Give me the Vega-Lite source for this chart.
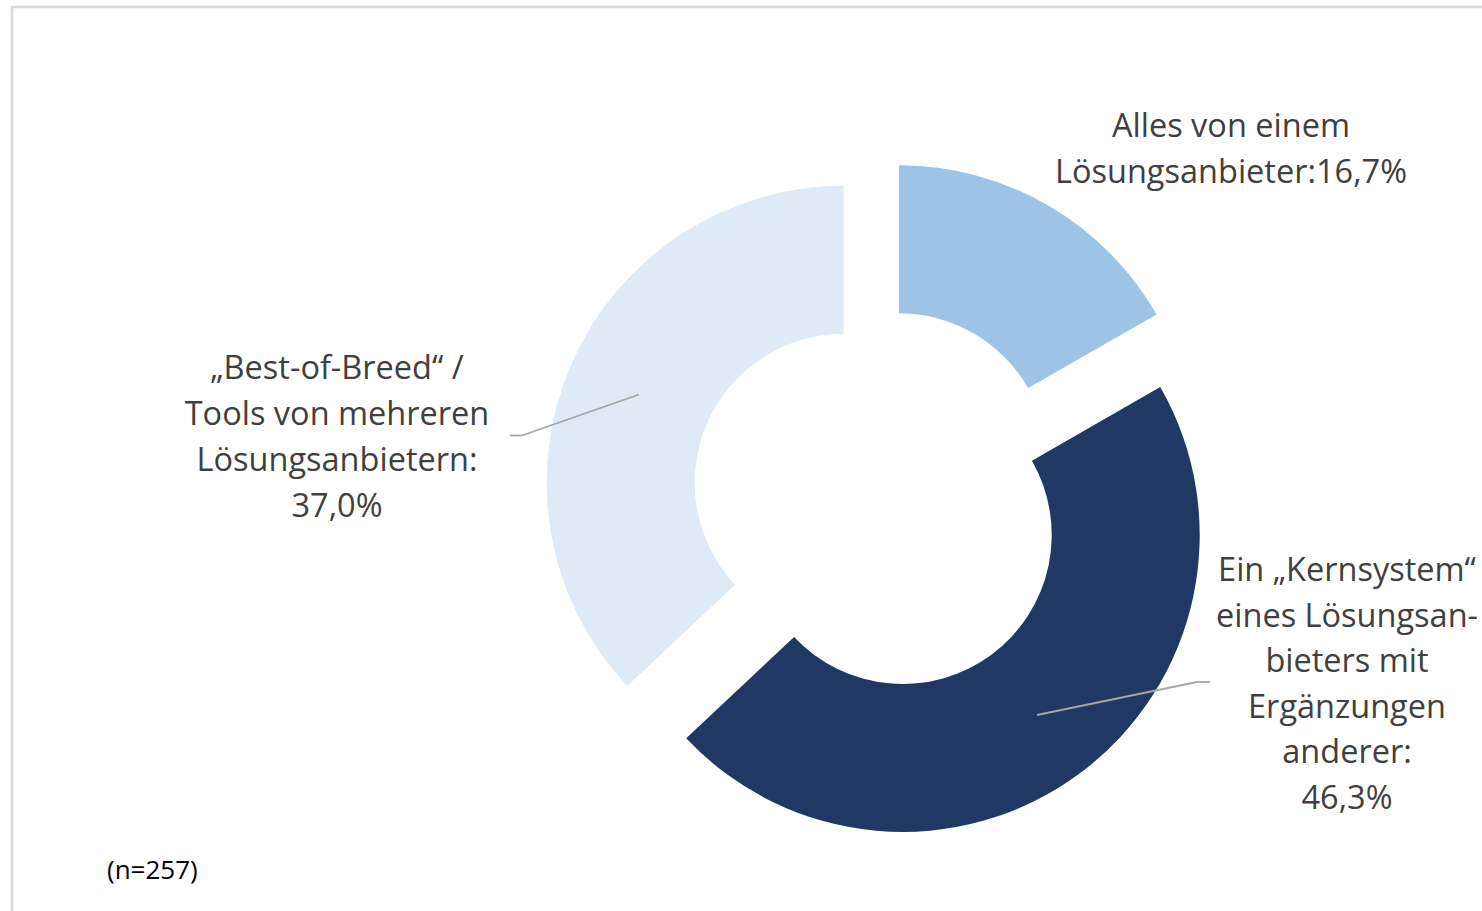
{
  "$schema": "https://vega.github.io/schema/vega-lite/v6.json",
  "width": 1482,
  "height": 911,
  "autosize": "none",
  "padding": 0,
  "background": "#ffffff",
  "config": {"view": {"stroke": null}},
  "params": [
    {"name": "cx", "value": 879.5},
    {"name": "cy", "value": 500},
    {"name": "exX", "value": 39},
    {"name": "exY", "value": 43.5}
  ],
  "data": {
    "values": [
      {"order": 1, "cat": "Alles von einem Lösungsanbieter", "value": 16.7, "label": "Alles von einem\nLösungsanbieter:16,7%"},
      {"order": 2, "cat": "Kernsystem mit Ergänzungen", "value": 46.3, "label": "Ein „Kernsystem“\neines Lösungsan-\nbieters mit\nErgänzungen\nanderer:\n46,3%"},
      {"order": 3, "cat": "Best-of-Breed", "value": 37.0, "label": "„Best-of-Breed“ /\nTools von mehreren\nLösungsanbietern:\n37,0%"}
    ]
  },
  "transform": [
    {"window": [{"op": "sum", "field": "value", "as": "cum"}], "sort": [{"field": "order"}], "frame": [null, 0]},
    {"joinaggregate": [{"op": "sum", "field": "value", "as": "total"}]},
    {"calculate": "2*PI*(datum.cum-datum.value)/datum.total", "as": "a0"},
    {"calculate": "2*PI*datum.cum/datum.total", "as": "a1"},
    {"calculate": "(datum.a0+datum.a1)/2", "as": "mid"}
  ],
  "layer": [
    {
      "data": {"values": [{"frame": "chart area"}]},
      "transform": [],
      "mark": {"type": "rect", "x": 12, "y": 7, "x2": 1520, "y2": 960, "fill": null, "fillOpacity": 0, "stroke": "#D9D9D9", "strokeWidth": 2.5, "clip": true},
      "encoding": {}
    },
    {
      "mark": {
        "type": "arc",
        "innerRadius": 149,
        "outerRadius": 297,
        "x": {"expr": "cx + exX*sin(datum.mid)"},
        "y": {"expr": "cy - exY*cos(datum.mid)"}
      },
      "encoding": {
        "theta": {"field": "a0", "type": "quantitative", "scale": null},
        "theta2": {"field": "a1"},
        "color": {
          "field": "cat",
          "type": "nominal",
          "scale": {
            "domain": ["Alles von einem Lösungsanbieter", "Kernsystem mit Ergänzungen", "Best-of-Breed"],
            "range": ["#9DC3E6", "#1F3864", "#DEEBF7"]
          },
          "legend": null
        }
      }
    },
    {
      "transform": [{"filter": "datum.order == 3"}],
      "mark": {"type": "rule", "color": "#A6A6A6", "strokeWidth": 1.8},
      "encoding": {"x": {"value": 639}, "y": {"value": 394.5}, "x2": {"value": 522}, "y2": {"value": 435.5}}
    },
    {
      "transform": [{"filter": "datum.order == 3"}],
      "mark": {"type": "rule", "color": "#A6A6A6", "strokeWidth": 1.8},
      "encoding": {"x": {"value": 522}, "y": {"value": 435.5}, "x2": {"value": 510}, "y2": {"value": 435.5}}
    },
    {
      "transform": [{"filter": "datum.order == 2"}],
      "mark": {"type": "rule", "color": "#A6A6A6", "strokeWidth": 1.8},
      "encoding": {"x": {"value": 1037}, "y": {"value": 715}, "x2": {"value": 1197}, "y2": {"value": 682}}
    },
    {
      "transform": [{"filter": "datum.order == 2"}],
      "mark": {"type": "rule", "color": "#A6A6A6", "strokeWidth": 1.8},
      "encoding": {"x": {"value": 1197}, "y": {"value": 682}, "x2": {"value": 1210}, "y2": {"value": 682}}
    },
    {
      "transform": [{"filter": "datum.order == 1"}],
      "mark": {"type": "text", "x": 1231, "y": 137, "align": "center", "baseline": "alphabetic", "lineBreak": "\n", "lineHeight": 46, "font": "Open Sans", "fontSize": 32.5, "color": "#404040"},
      "encoding": {"text": {"field": "label"}}
    },
    {
      "transform": [{"filter": "datum.order == 2"}],
      "mark": {"type": "text", "x": 1347, "y": 581, "align": "center", "baseline": "alphabetic", "lineBreak": "\n", "lineHeight": 45.5, "font": "Open Sans", "fontSize": 32.5, "color": "#404040"},
      "encoding": {"text": {"field": "label"}}
    },
    {
      "transform": [{"filter": "datum.order == 3"}],
      "mark": {"type": "text", "x": 337, "y": 379, "align": "center", "baseline": "alphabetic", "lineBreak": "\n", "lineHeight": 46, "font": "Open Sans", "fontSize": 32.5, "color": "#404040"},
      "encoding": {"text": {"field": "label"}}
    },
    {
      "data": {"values": [{"note": "(n=257)"}]},
      "transform": [],
      "mark": {"type": "text", "x": 107, "y": 879, "align": "left", "baseline": "alphabetic", "font": "Open Sans", "fontSize": 26, "color": "#000000"},
      "encoding": {"text": {"field": "note"}}
    }
  ]
}
